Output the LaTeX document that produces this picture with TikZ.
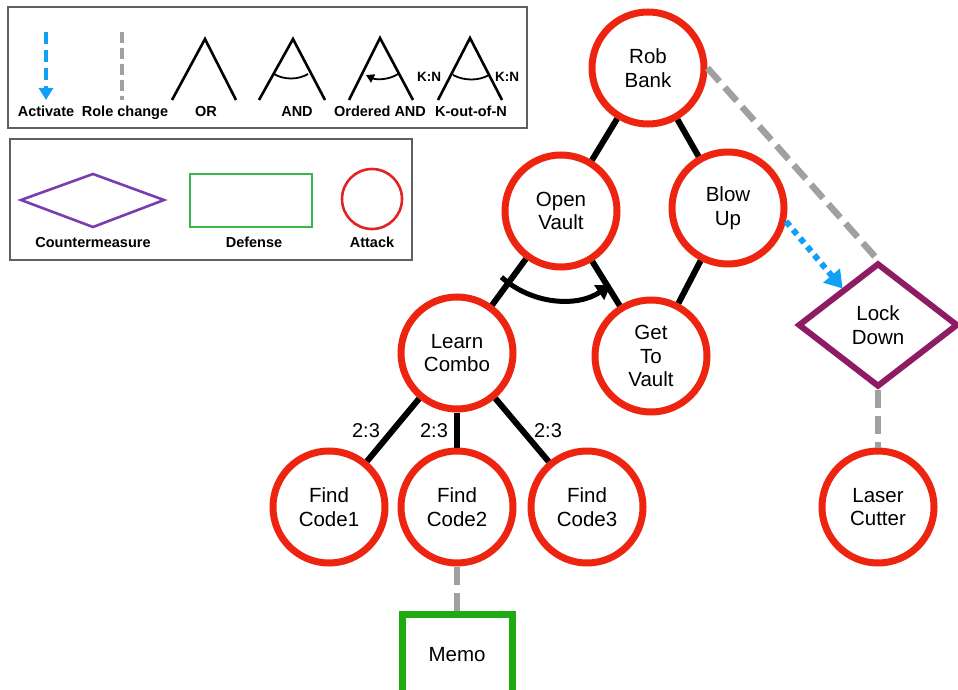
\documentclass[tikz,border=0pt]{standalone}
\usepackage{fontspec}
\setmainfont{Liberation Sans}
\usetikzlibrary{shapes.geometric,arrows.meta,calc}

\definecolor{atkred}{RGB}{236,36,16}
\definecolor{cmpurple}{RGB}{142,28,100}
\definecolor{defgreen}{RGB}{30,170,16}
\definecolor{actblue}{RGB}{16,160,245}
\definecolor{rolegray}{RGB}{160,160,160}
\definecolor{legpurple}{RGB}{120,62,175}
\definecolor{leggreen}{RGB}{62,180,78}
\definecolor{legred}{RGB}{225,35,35}
\definecolor{framegray}{RGB}{95,95,95}

\begin{document}
\begin{tikzpicture}[x=1pt,y=-1pt,
  nodefont/.style={font=\fontsize{20.5}{23.5}\selectfont},
  attack/.style={circle, draw=atkred, line width=7pt, minimum size=112pt,
    inner sep=0pt, align=center, nodefont},
  counter/.style={diamond, draw=cmpurple, line width=6pt, minimum width=160pt,
    minimum height=124pt, inner sep=0pt, align=center, nodefont},
  defense/.style={rectangle, draw=defgreen, line width=7pt, minimum width=110pt,
    minimum height=82pt, inner sep=0pt, align=center, nodefont},
  refine/.style={line width=6pt, black},
  rolechg/.style={line width=6.5pt, rolegray, dash pattern=on 18pt off 8pt},
  activ/.style={line width=6pt, actblue, dash pattern=on 6pt off 5pt,
    -{Triangle[length=17pt,width=21pt]}},
  andarc/.style={line width=5pt, black, -{Triangle[length=14pt,width=17pt]}},
  kn/.style={font=\fontsize{20}{23}\selectfont},
  legtxt/.style={font=\bfseries\fontsize{14.5}{16}\selectfont, inner sep=0pt, anchor=base},
  legsmall/.style={font=\bfseries\fontsize{13.5}{15}\selectfont, inner sep=0pt},
  legframe/.style={draw=framegray, line width=1.3pt},
  gate/.style={line width=2.6pt, black},
  gatearc/.style={line width=1.8pt, black},
]
\useasboundingbox (0,0) rectangle (958,690);

% ---------- legend: connector kinds ----------
\draw[legframe] (8,7) rectangle (527,128);
\draw[line width=4pt, actblue, dash pattern=on 12pt off 6pt,
      -{Triangle[length=12pt,width=14pt]}] (46,32) -- (46,100);
\node[legtxt] (lgact) at (46,117) {Activate};
\draw[line width=4pt, rolegray, dash pattern=on 11pt off 5pt] (122,32) -- (122,100);
\node[legtxt] (lgrole) at (125,117) {Role change};
% OR
\draw[gate] (172,100) -- (205,39) -- (236,100);
\node[legtxt] (lgor) at (206,117) {OR};
% AND
\draw[gate] (259,100) -- (293,39) -- (325,100);
\draw[gatearc] (274,74) .. controls (284,80) and (298,80) .. (308,74);
\node[legtxt] (lgand) at (297,117) {AND};
% Ordered AND
\draw[gate] (349,100) -- (380,38) -- (413,100);
\draw[gatearc, {Triangle[length=8pt,width=9pt]}-] (366,75) .. controls (376,80) and (389,80) .. (398,74);
\node[legtxt] (lgoand) at (380,117) {Ordered AND};
% K-out-of-N
\draw[gate] (438,100) -- (470,38) -- (502,100);
\draw[gatearc] (453,75) .. controls (464,81) and (479,81) .. (489,75);
\node[legsmall] (lgk1) at (429,77) {K:N};
\node[legsmall] (lgk2) at (507,77) {K:N};
\node[legtxt] (lgkn) at (471,117) {K-out-of-N};

% ---------- legend: node kinds ----------
\draw[legframe] (10,139) rectangle (412,260);
\draw[legpurple, line width=2.6pt] (21,200) -- (93,174) -- (164,200) -- (93,227) -- cycle;
\node[legtxt] (lgcm) at (93,247) {Countermeasure};
\draw[leggreen, line width=2.6pt] (190,174) rectangle (312,227);
\node[legtxt] (lgdef) at (254,247) {Defense};
\draw[legred, line width=2.6pt] (372,199) circle[radius=30];
\node[legtxt] (lgatk) at (372,247) {Attack};

% ---------- attack tree ----------
\node[attack] (rob)   at (648,68)  {Rob\\Bank};
\node[attack] (ov)    at (561,211) {Open\\Vault};
\node[attack] (bu)    at (728,208) {Blow\\Up};
\node[attack] (lc)    at (457,353) {Learn\\Combo};
\node[attack] (gv)    at (651,356) {Get\\To\\Vault};
\node[attack] (c1)    at (329,507) {Find\\Code1};
\node[attack] (c2)    at (457,507) {Find\\Code2};
\node[attack] (c3)    at (587,507) {Find\\Code3};
\node[attack] (laser) at (878,507) {Laser\\Cutter};
\node[counter] (lock) at (878,325) {Lock\\Down};
\node[defense] (memo) at (457,655) {Memo};

% refinements
\draw[refine] (rob) -- (ov);
\draw[refine] (rob) -- (bu);
\draw[refine] (ov) -- (lc);
\draw[refine] (ov) -- (gv);
\draw[refine] (bu) -- (gv);
\draw[refine] (lc) -- (c1);
\draw[refine] (lc) -- (c2);
\draw[refine] (lc) -- (c3);

% ordered AND over the children of Open Vault
\draw[andarc] ($(ov)+(132:89)$) arc[start angle=132, end angle=56, radius=89];

% K-out-of-N annotations
\node[kn] (k1) at (366,431) {2:3};
\node[kn] (k2) at (434,431) {2:3};
\node[kn] (k3) at (548,431) {2:3};

% role changes and activation
\draw[rolechg] (rob.east) -- (lock.north);
\draw[rolechg] (lock.south) -- (laser.north);
\draw[rolechg] (c2.south) -- (memo.north);
\draw[activ] (bu.-13) -- ($(lock.north west)+(6,-4)$);
\end{tikzpicture}
\end{document}
